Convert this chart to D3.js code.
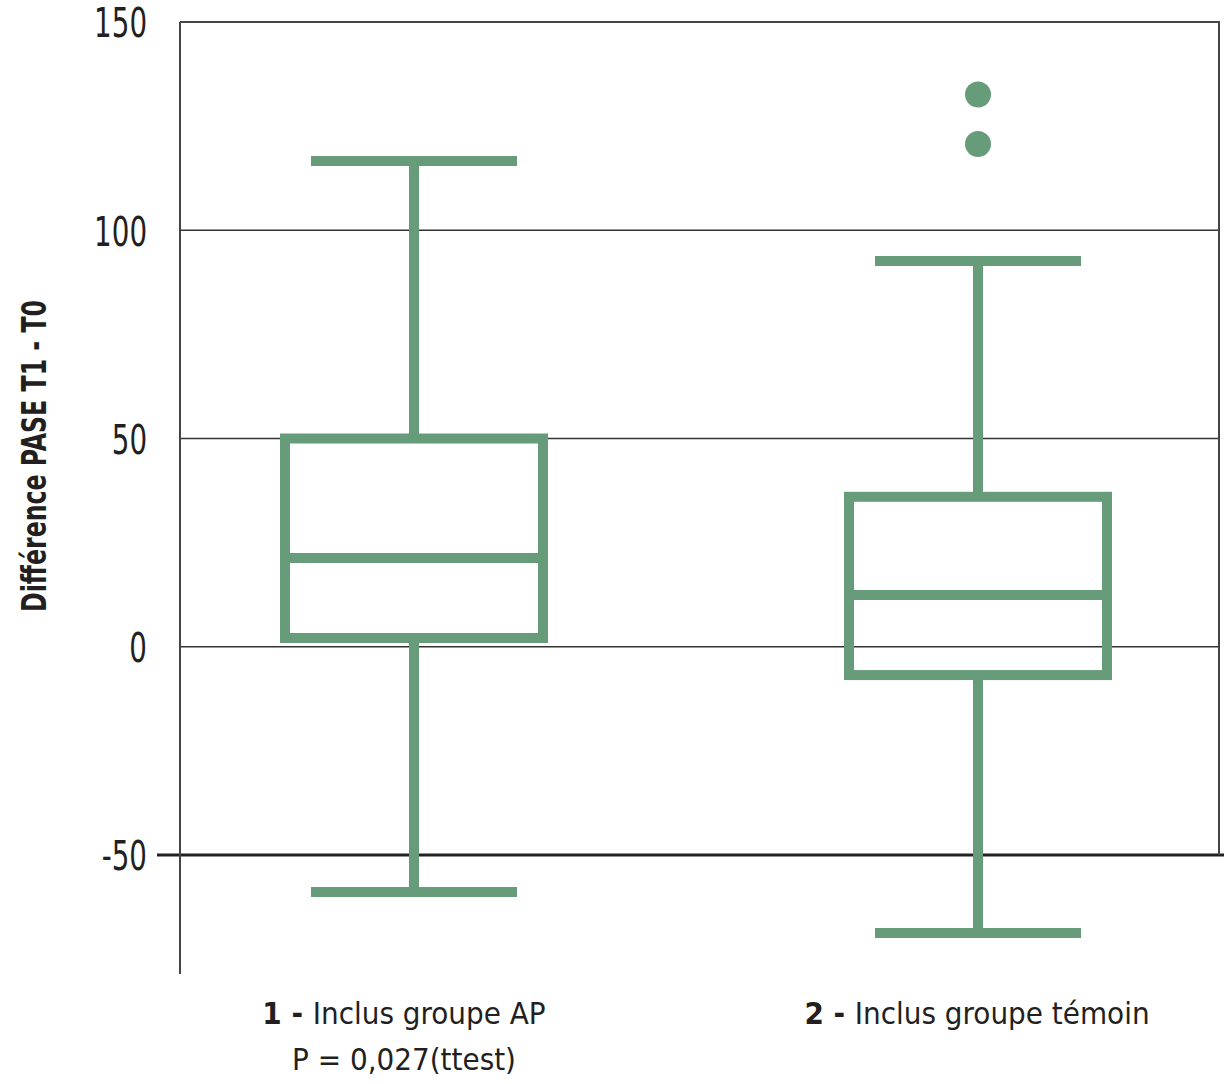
<!DOCTYPE html>
<html>
<head>
<meta charset="utf-8">
<script src="https://cdn.jsdelivr.net/npm/d3@7"></script>
<style>
  html, body { margin: 0; padding: 0; background: #fff; }
  svg { display: block; }
  text { font-family: "Liberation Sans Narrow", "DejaVu Sans Condensed", "Roboto Condensed", sans-serif; fill: #231f20; }
</style>
</head>
<body>
<svg id="chart" width="1224" height="1084"></svg>
<script>
// ---- data ----
const groups = ["1", "2"];
const groupNames = ["Inclus groupe AP", "Inclus groupe témoin"];
const groupSub = ["P = 0,027(ttest)", ""];
const whiskerLow = [-58.9, -68.7];
const q1 = [2.1, -6.8];
const median = [21.3, 12.4];
const q3 = [50, 36];
const whiskerHigh = [116.6, 92.6];
const outliers = [[], [132.6, 120.7]];
const yTicks = [150, 100, 50, 0, -50];
const yLabel = "Différence PASE T1 - T0";

// ---- layout ----
(function () {
const svg = d3.select("#chart");
const green = "#679c7a";
const plotLeft = 180, plotRight = 1219;
const y = d3.scaleLinear().domain([-50, 150]).range([855, 22]);
const x = d3.scalePoint().domain(groups).range([414, 978]);
const axisBottomValue = -78.6;
const boxHalf = 129, capHalf = 103, sw = 10;
const labelShift = [-10, -1];

function condense(sel, factor) {
  sel.each(function () {
    const len = this.getComputedTextLength();
    d3.select(this).attr("textLength", len * factor).attr("lengthAdjust", "spacingAndGlyphs");
  });
}

// gridlines
svg.append("g").selectAll("line").data([100, 50, 0]).join("line")
  .attr("x1", plotLeft).attr("x2", plotRight)
  .attr("y1", d => y(d)).attr("y2", d => y(d))
  .attr("stroke", "#333").attr("stroke-width", 1.5);

// -50 thick line
svg.append("line").attr("x1", 157).attr("x2", 1224)
  .attr("y1", y(-50)).attr("y2", y(-50))
  .attr("stroke", "#222").attr("stroke-width", 3);

// frame: top and right border
svg.append("path")
  .attr("d", `M${plotLeft},${y(150)}H${plotRight}V${y(-50)}`)
  .attr("fill", "none").attr("stroke", "#444").attr("stroke-width", 2);

// left axis line
svg.append("line").attr("x1", plotLeft).attr("x2", plotLeft)
  .attr("y1", y(150)).attr("y2", y(axisBottomValue))
  .attr("stroke", "#444").attr("stroke-width", 2);

// y axis tick labels
const yAxis = d3.axisLeft(y).tickValues(yTicks).tickSize(0).tickPadding(0)
  .tickFormat(d => String(d));
const gy = svg.append("g").attr("transform", `translate(147,2)`).call(yAxis);
gy.select(".domain").remove();
gy.selectAll("text").style("font-size", "40px").attr("fill", "#231f20")
  .style("font-family", '"Liberation Sans Narrow", "DejaVu Sans Condensed", sans-serif');
condense(gy.selectAll("text"), 0.77);

// y label
svg.append("text")
  .attr("transform", `translate(46,456) rotate(-90)`)
  .attr("text-anchor", "middle")
  .attr("textLength", 312).attr("lengthAdjust", "spacingAndGlyphs")
  .style("font-size", "34px").style("font-weight", "bold")
  .text(yLabel);

// boxes
const g = svg.append("g");
groups.forEach((k, i) => {
  const cx = x(k);
  g.append("line").attr("x1", cx).attr("x2", cx)
    .attr("y1", y(whiskerHigh[i])).attr("y2", y(q3[i]))
    .attr("stroke", green).attr("stroke-width", sw);
  g.append("line").attr("x1", cx).attr("x2", cx)
    .attr("y1", y(q1[i])).attr("y2", y(whiskerLow[i]))
    .attr("stroke", green).attr("stroke-width", sw);
  [whiskerHigh[i], whiskerLow[i]].forEach(v => {
    g.append("line").attr("x1", cx - capHalf).attr("x2", cx + capHalf)
      .attr("y1", y(v)).attr("y2", y(v))
      .attr("stroke", green).attr("stroke-width", sw);
  });
  g.append("rect").attr("x", cx - boxHalf).attr("width", 2 * boxHalf)
    .attr("y", y(q3[i])).attr("height", y(q1[i]) - y(q3[i]))
    .attr("fill", "none").attr("stroke", green).attr("stroke-width", sw);
  g.append("line").attr("x1", cx - boxHalf).attr("x2", cx + boxHalf)
    .attr("y1", y(median[i])).attr("y2", y(median[i]))
    .attr("stroke", green).attr("stroke-width", sw);
  outliers[i].forEach(v => {
    g.append("circle").attr("cx", cx).attr("cy", y(v)).attr("r", 13)
      .attr("fill", green);
  });
  const lx = cx + labelShift[i];
  const t = svg.append("text").attr("x", lx).attr("y", 1024)
    .attr("text-anchor", "middle").style("font-size", "31px");
  t.append("tspan").style("font-weight", "bold").text(k + " - ");
  t.append("tspan").text(groupNames[i]);
  if (groupSub[i]) {
    svg.append("text").attr("x", lx).attr("y", 1070)
      .attr("text-anchor", "middle").style("font-size", "31px")
      .text(groupSub[i]);
  }
});
})();
</script>
</body>
</html>
